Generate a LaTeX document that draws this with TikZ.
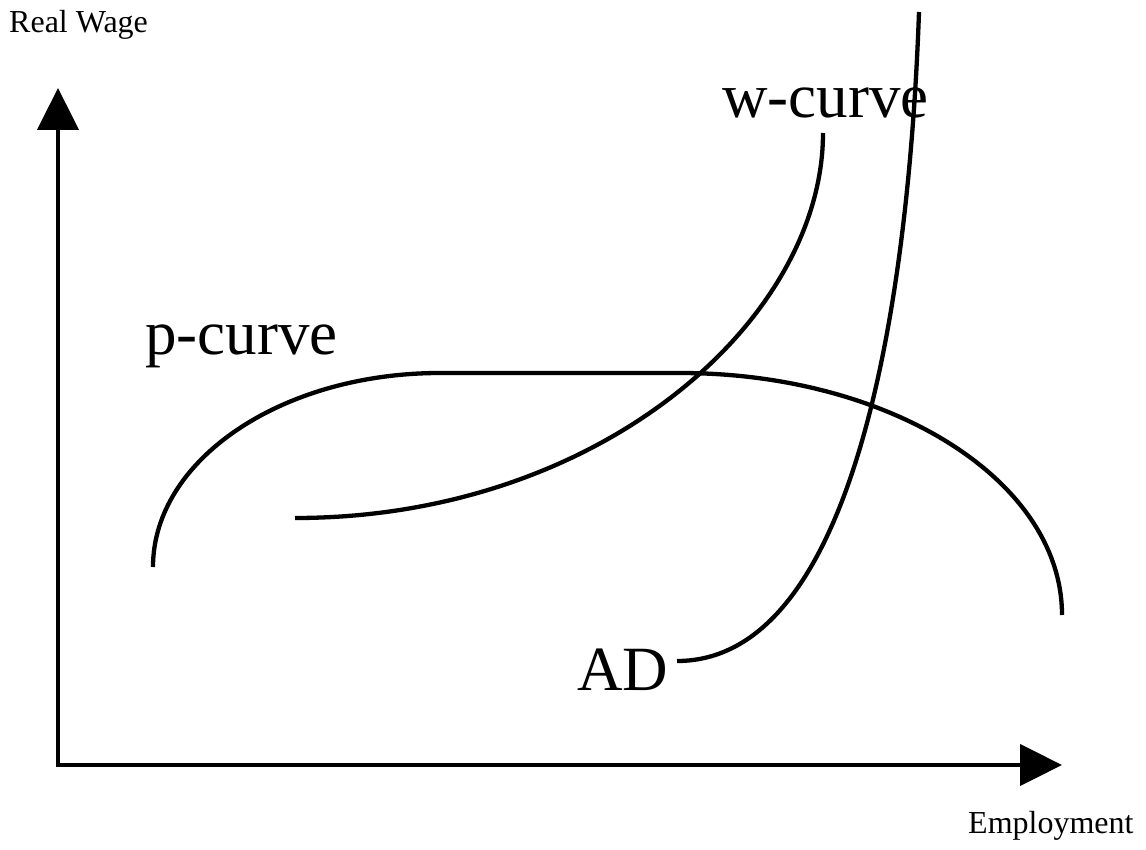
\documentclass[tikz,border=0pt]{standalone}
\usepackage{fontspec}
\setmainfont{Liberation Serif}
\usetikzlibrary{arrows.meta}
\begin{document}
\begin{tikzpicture}[x=1pt,y=-1pt,
  axisline/.style={line width=4.5pt,-{Triangle[width=41pt,length=42pt]}},
  curveline/.style={line width=4.3pt},
  smalllabel/.style={anchor=base west,inner sep=0pt,font=\fontsize{32}{36}\selectfont},
  biglabel/.style={anchor=base west,inner sep=0pt,font=\fontsize{63}{70}\selectfont}]
\useasboundingbox[fill=white] (0,0) rectangle (1146,850);
% axes
\coordinate (origin) at (58,765);
\coordinate (ytip) at (58,88);
\coordinate (xtip) at (1062,765);
\draw[axisline] (origin) -- (ytip);
\draw[axisline] ([xshift=-2.25pt]origin) -- (xtip);
% labels
\node[smalllabel] (realwage) at (9,33) {Real Wage};
\node[smalllabel] (employment) at (968,833) {Employment};
\node[biglabel] (pcurve) at (145,355) {p-curve};
\node[biglabel] (wcurve) at (722,118) {w-curve};
\node[biglabel] (ad) at (577,690) {AD};
% p-curve
\coordinate (p0) at (153,567);
\coordinate (p1) at (440,373);
\coordinate (p2) at (680,373);
\coordinate (p3) at (1062,615);
\draw[curveline] (p0) .. controls (153,460) and (281.5,373) .. (p1)
  -- (p2) .. controls (891,373) and (1062,481) .. (p3);
% w-curve
\coordinate (w0) at (295,518);
\coordinate (w1) at (823,133);
\draw[curveline] (w0) .. controls (600,518) and (823,320) .. (w1);
% AD curve
\coordinate (a0) at (677,661);
\coordinate (a1) at (919,12);
\draw[curveline] (a0) .. controls (850,661) and (908,320) .. (a1);
\end{tikzpicture}
\end{document}
